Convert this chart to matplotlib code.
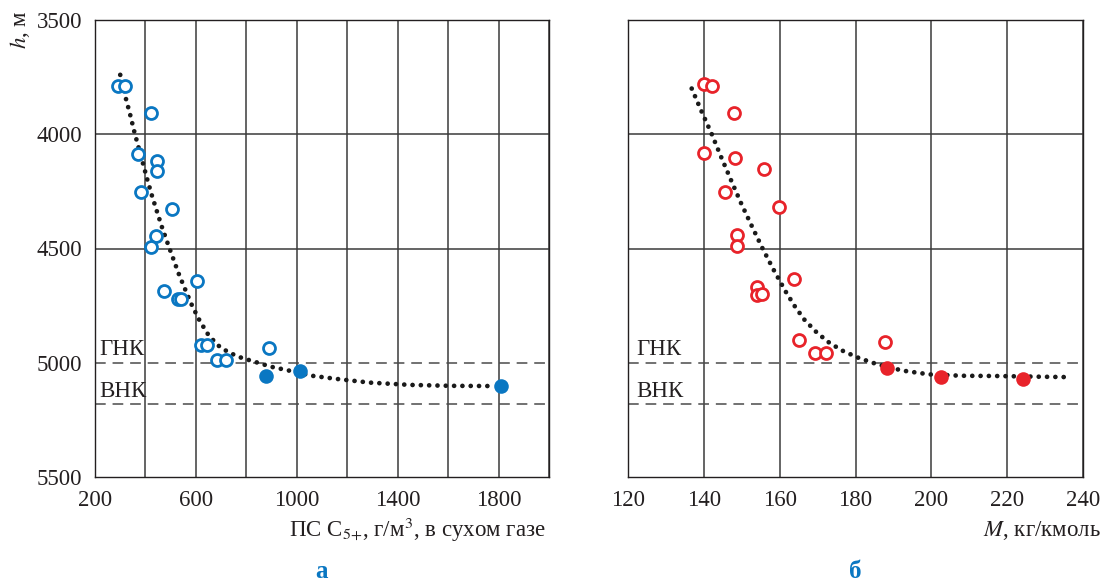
"""
    Depth vs. C5+ content and molar mass
"""

import matplotlib.pyplot as plt
from matplotlib.ticker import MultipleLocator

plt.rcParams['font.family'] = ['Liberation Serif', 'DejaVu Serif']
plt.rcParams['mathtext.fontset'] = 'stix'

# --- panel a: potential C5+ content [g/m3] vs depth [m]
a_open_x = [292, 319, 422, 372, 446, 446, 382, 504, 443, 423,
            603, 474, 530, 541, 619, 645, 683, 721, 889]
a_open_h = [3788, 3788, 3909, 4085, 4117, 4162, 4254, 4326, 4447, 4494,
            4642, 4685, 4721, 4721, 4922, 4922, 4987, 4987, 4934]
a_fill_x = [877, 1014, 1810]
a_fill_h = [5057, 5035, 5102]

a_trend_x = [300, 323, 340, 355, 372, 390, 407, 425, 445, 465, 487, 509,
             531, 556, 582, 610, 645, 685, 730, 780, 840, 900, 960, 1060,
             1160, 1290, 1450, 1610, 1780]
a_trend_h = [3740, 3846, 3917, 3985, 4055, 4127, 4197, 4266, 4336, 4405,
             4474, 4541, 4608, 4675, 4743, 4806, 4871, 4922, 4955, 4978,
             4998, 5018, 5032, 5057, 5071, 5087, 5097, 5101, 5102]
a_ticks = [200, 600, 1000, 1400, 1800]

# --- panel b: molar mass [kg/kmol] vs depth [m]
b_open_x = [140.0, 142.2, 148.0, 140.0, 148.3, 155.9, 145.6, 159.9, 148.8,
            148.8, 163.9, 153.9, 153.9, 155.4, 165.2, 169.4, 172.1, 187.8]
b_open_h = [3782, 3791, 3907, 4083, 4105, 4150, 4253, 4320, 4442,
            4488, 4635, 4667, 4703, 4699, 4900, 4956, 4956, 4911]
b_fill_x = [188.2, 202.5, 224.3]
b_fill_h = [5025, 5061, 5070]

b_trend_x = [136.8, 139.4, 142.1, 144.6, 147.2, 149.8, 152.6, 155.4, 158.4,
             161.6, 164.0, 166.5, 169.5, 172.7, 176.4, 180.4, 184.5, 188.8,
             193.1, 199.5, 208.2, 217.0, 228.1, 236.8]
b_trend_h = [3800, 3900, 4000, 4101, 4202, 4301, 4400, 4497, 4593,
             4689, 4753, 4811, 4863, 4908, 4946, 4976, 5000, 5021,
             5036, 5051, 5057, 5058, 5061, 5063]
b_ticks = [120, 140, 160, 180, 200, 220, 240]

h_ticks = [3500, 4000, 4500, 5000, 5500]

# gas-oil and water-oil contacts
gnk = 5000
vnk = 5180

blue = '#0a77c2'
red = '#e8232a'
text_c = '#231f20'

W, H = 1105, 583
fig = plt.figure(figsize=(W / 100, H / 100), dpi=100)
ax1 = fig.add_axes([95 / W, 1 - 477 / H, 454 / W, 457 / H])
ax2 = fig.add_axes([628 / W, 1 - 477 / H, 455 / W, 457 / H])


def setup(ax, xlim, ticks, minor):
    ax.set_xlim(*xlim)
    ax.set_ylim(5500, 3500)
    ax.set_xticks(ticks)
    ax.xaxis.set_minor_locator(MultipleLocator(minor))
    ax.set_yticks(h_ticks)
    ax.tick_params(which='both', length=0, labelsize=16.5,
                   colors=text_c, pad=9)
    ax.grid(axis='x', which='both', color='#3a3a3a', lw=1.1)
    for yy in [4000, 4500]:
        ax.axhline(yy, color='#3a3a3a', lw=1.1, zorder=1)
    for yy in [gnk, vnk]:
        ax.axhline(yy, color='#4a4a4a', lw=1.1, dashes=(7, 4.5), zorder=1)
    for s in ax.spines.values():
        s.set_linewidth(1.0)
        s.set_color('#231f20')
    ax.set_axisbelow(True)


setup(ax1, (200, 2000), a_ticks, 200)
setup(ax2, (120, 240), b_ticks, 20)
ax2.tick_params(labelleft=False)


def draw(ax, tx, th, ox, oh, fx, fh, color, lx):
    ax.plot(tx, th, color='#1a1a1a', lw=3.4, linestyle=(0, (0.01, 1.75)),
            dash_capstyle='round', zorder=3)
    ax.plot(ox, oh, 'o', ms=8.6, mew=2.0, mec=color, mfc='white', zorder=4)
    ax.plot(fx, fh, 'o', ms=10.5, mew=0, color=color, zorder=4)
    ax.text(lx, 4943, 'ГНК', fontsize=16.5, color=text_c, va='center')
    ax.text(lx, 5127, 'ВНК', fontsize=16.5, color=text_c, va='center')


draw(ax1, a_trend_x, a_trend_h, a_open_x, a_open_h, a_fill_x, a_fill_h,
     blue, 218)
draw(ax2, b_trend_x, b_trend_h, b_open_x, b_open_h, b_fill_x, b_fill_h,
     red, 122.3)

# axis captions
fig.text(20 / W, 1 - 30 / H, '$h$, м', rotation=90, ha='center',
         va='center', fontsize=16.5, color=text_c)
fig.text(546 / W, 1 - 530 / H, 'ПС C$_{5{+}}$, г/м$^3$, в сухом газе',
         ha='right', va='center', fontsize=16.5, color=text_c)
fig.text(1101 / W, 1 - 530 / H, '$M$, кг/кмоль',
         ha='right', va='center', fontsize=16.5, color=text_c)
fig.text(322 / W, 1 - 572 / H, 'а', ha='center', va='center',
         fontsize=18, fontweight='bold', color=blue)
fig.text(855 / W, 1 - 572 / H, 'б', ha='center', va='center',
         fontsize=18, fontweight='bold', color=blue)

fig.savefig('out.png', dpi=100)
